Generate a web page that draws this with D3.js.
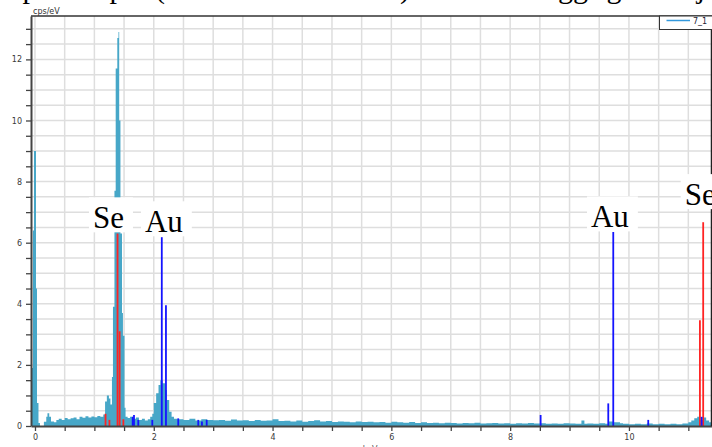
<!DOCTYPE html>
<html>
<head>
<meta charset="utf-8">
<script src="https://cdn.jsdelivr.net/npm/d3@7"></script>
<style>
  body { margin: 0; background: #fff; }
  svg { display: block; }
  .axis text { font-family: "DejaVu Sans", sans-serif; font-size: 8px; fill: #3a3a3a; }
  .axis path, .axis line { stroke: #444; }
</style>
</head>
<body>
<div id="chart"></div>
<script>
// EDS spectrum "7_1": [energy keV (start of step), cps/eV]
const spectrum = [
  [-0.067, 1.9], [-0.034, 6.4], [-0.017, 9.0], [0.017, 4.5], [0.034, 0.75], [0.059, 0.1],
  [0.084, 0.0], [0.15, 0.14], [0.19, 0.3], [0.21, 0.42], [0.24, 0.3], [0.27, 0.15],
  [0.32, 0.12], [0.36, 0.2], [0.40, 0.24], [0.45, 0.2], [0.50, 0.26], [0.55, 0.22],
  [0.60, 0.25], [0.65, 0.28], [0.70, 0.22], [0.75, 0.3], [0.80, 0.27], [0.85, 0.32],
  [0.90, 0.28], [0.95, 0.31], [1.00, 0.29], [1.05, 0.33], [1.10, 0.3], [1.15, 0.38],
  [1.18, 0.8], [1.21, 1.0], [1.245, 0.9], [1.27, 0.7], [1.296, 1.6], [1.313, 3.9],
  [1.338, 7.7], [1.359, 11.7], [1.386, 12.7], [1.406, 12.9], [1.418, 10.0], [1.439, 6.3],
  [1.465, 3.7], [1.481, 2.95], [1.507, 0.6], [1.525, 0.3], [1.56, 0.26], [1.60, 0.3],
  [1.65, 0.24], [1.70, 0.28], [1.75, 0.2], [1.80, 0.24], [1.85, 0.18], [1.90, 0.22],
  [1.94, 0.3], [1.975, 0.4], [2.00, 0.75], [2.04, 1.07], [2.08, 1.34], [2.11, 1.5],
  [2.15, 1.4], [2.19, 1.18], [2.22, 0.85], [2.26, 0.47], [2.30, 0.3], [2.34, 0.24],
  [2.4, 0.22], [2.5, 0.2], [2.6, 0.24], [2.7, 0.18], [2.8, 0.22], [2.9, 0.2],
  [3.0, 0.19], [3.1, 0.2], [3.2, 0.17], [3.3, 0.21], [3.4, 0.18], [3.5, 0.19],
  [3.6, 0.16], [3.7, 0.2], [3.8, 0.17], [3.9, 0.18], [4.0, 0.22], [4.1, 0.16],
  [4.2, 0.17], [4.3, 0.15], [4.4, 0.18], [4.5, 0.14], [4.6, 0.16], [4.7, 0.19],
  [4.8, 0.15], [4.9, 0.16], [5.0, 0.13], [5.1, 0.15], [5.2, 0.14], [5.3, 0.12],
  [5.4, 0.15], [5.5, 0.13], [5.6, 0.14], [5.7, 0.12], [5.8, 0.13], [5.9, 0.11],
  [6.0, 0.14], [6.1, 0.12], [6.2, 0.11], [6.3, 0.13], [6.4, 0.1], [6.5, 0.12],
  [6.6, 0.1], [6.7, 0.11], [6.8, 0.09], [6.9, 0.11], [7.0, 0.1], [7.1, 0.08],
  [7.2, 0.1], [7.3, 0.09], [7.4, 0.11], [7.5, 0.08], [7.6, 0.09], [7.7, 0.1],
  [7.8, 0.08], [7.9, 0.09], [8.0, 0.07], [8.1, 0.09], [8.2, 0.08], [8.3, 0.1],
  [8.4, 0.08], [8.5, 0.09], [8.6, 0.07], [8.7, 0.08], [8.8, 0.07], [8.9, 0.09],
  [9.0, 0.08], [9.1, 0.07], [9.2, 0.18], [9.25, 0.07], [9.3, 0.08], [9.4, 0.07],
  [9.5, 0.09], [9.6, 0.07], [9.65, 0.15], [9.75, 0.12], [9.85, 0.09], [9.9, 0.07],
  [10.0, 0.06], [10.1, 0.07], [10.2, 0.06], [10.3, 0.08], [10.4, 0.06], [10.5, 0.07],
  [10.6, 0.06], [10.7, 0.07], [10.8, 0.06], [10.9, 0.08], [11.0, 0.12], [11.05, 0.18],
  [11.1, 0.25], [11.15, 0.3], [11.2, 0.2], [11.25, 0.28], [11.3, 0.18], [11.35, 0.12],
  [11.39, 0.12]
];

// element marker lines [keV, height]
const seLines = [[1.188, 0.4], [1.253, 0.2], [1.39, 6.3], [1.425, 3.1], [1.488, 0.22],
                 [11.195, 3.46], [11.25, 6.67]];
const auLines = [[1.645, 0.3], [1.667, 0.36], [1.739, 0.2], [1.975, 0.2], [2.135, 6.18],
                 [2.205, 3.95], [2.412, 0.25], [2.749, 0.2], [2.811, 0.15], [2.891, 0.2],
                 [8.513, 0.36], [9.652, 0.74], [9.736, 6.35], [10.325, 0.2], [11.224, 0.3]];

// element labels [text, keV (centre), cps (baseline)]
const labels = [["Se", 1.237, 6.47], ["Au", 2.17, 6.34], ["Au", 9.68, 6.5], ["Se", 11.2, 7.23]];

const xTicks = d3.range(0, 11.5, 0.5);
const yTicks = d3.range(0, 13.5, 0.5);
const xLabelled = [0, 2, 4, 6, 8, 10];
const yLabelled = [0, 2, 4, 6, 8, 10, 12];

const W = 712, H = 447;
const svg = d3.select('#chart').append('svg').attr('width', W).attr('height', H);

const x = d3.scaleLinear().domain([-0.067, 11.39]).range([31, 711.5]);
const y = d3.scaleLinear().domain([0, 13.42]).range([426, 16]);

// grid
svg.append('g').selectAll('line').data(xTicks).join('line')
  .attr('x1', d => x(d)).attr('x2', d => x(d)).attr('y1', 16).attr('y2', 426)
  .attr('stroke', '#dedede').attr('stroke-width', 1.5);
svg.append('g').selectAll('line').data(yTicks.filter(d => d > 0)).join('line')
  .attr('x1', 31).attr('x2', 711.5).attr('y1', d => y(d)).attr('y2', d => y(d))
  .attr('stroke', '#dedede').attr('stroke-width', 1.5);

// spectrum
const area = d3.area().curve(d3.curveStepAfter)
  .x(d => x(d[0])).y0(y(0)).y1(d => y(d[1]));
svg.append('path').datum(spectrum).attr('d', area).attr('fill', '#47a7c8');

// marker lines
function markers(data, color) {
  svg.append('g').selectAll('line').data(data).join('line')
    .attr('x1', d => x(d[0])).attr('x2', d => x(d[0]))
    .attr('y1', y(0)).attr('y2', d => y(d[1]))
    .attr('stroke', color).attr('stroke-width', 1.8);
}
markers(seLines, '#ff2323');
markers(auLines, '#1414ff');

// axes
const yAxis = svg.append('g').attr('class', 'axis').attr('transform', 'translate(31,0)')
  .call(d3.axisLeft(y).tickValues(yTicks).tickSize(5).tickSizeOuter(0)
    .tickFormat(d => yLabelled.includes(d) ? d : ''));
yAxis.select('.domain').attr('stroke-width', 2);
yAxis.selectAll('.tick line').attr('stroke-width', 1.3);
yAxis.selectAll('text').attr('x', -9);

const xAxis = svg.append('g').attr('class', 'axis').attr('transform', 'translate(0,426)')
  .call(d3.axisBottom(x).tickValues(xTicks).tickSize(5).tickSizeOuter(0)
    .tickFormat(d => xLabelled.includes(d) ? d : ''));
xAxis.select('.domain').attr('stroke-width', 2);
xAxis.selectAll('.tick line').attr('stroke-width', 1.3);
xAxis.selectAll('text').attr('y', 8);

// frame top / right
svg.append('line').attr('x1', 31).attr('x2', 712).attr('y1', 16).attr('y2', 16)
  .attr('stroke', '#333').attr('stroke-width', 1.5);
svg.append('line').attr('x1', 711.5).attr('x2', 711.5).attr('y1', 16).attr('y2', 426)
  .attr('stroke', '#222').attr('stroke-width', 1.5);

// axis titles
svg.append('text').attr('x', 33).attr('y', 13.5).text('cps/eV')
  .attr('font-family', 'DejaVu Sans, sans-serif').attr('font-size', 8).attr('fill', '#333');
svg.append('text').attr('x', 370).attr('y', 452).attr('text-anchor', 'middle').text('keV')
  .attr('font-family', 'DejaVu Sans, sans-serif').attr('font-size', 8).attr('fill', '#555');

// element labels with white boxes
labels.forEach(([t, e, v]) => {
  const g = svg.append('g');
  const txt = g.append('text').attr('x', x(e)).attr('y', y(v)).attr('text-anchor', 'middle')
    .attr('font-family', 'Liberation Serif, Times New Roman, serif').attr('font-size', 31)
    .attr('fill', '#000').text(t);
  const bb = txt.node().getBBox();
  g.insert('rect', 'text').attr('x', bb.x - 4).attr('y', y(v) - 31)
    .attr('width', bb.width + 13).attr('height', 35).attr('fill', '#fff');
});

// legend
const lg = svg.append('g');
lg.append('rect').attr('x', 659.5).attr('y', 16).attr('width', 53).attr('height', 13.5)
  .attr('fill', '#fff').attr('stroke', '#333').attr('stroke-width', 1);
lg.append('line').attr('x1', 666.5).attr('x2', 690).attr('y1', 20.5).attr('y2', 20.5)
  .attr('stroke', '#3399dd').attr('stroke-width', 1.5);
lg.append('text').attr('x', 693).attr('y', 24).text('7_1')
  .attr('font-family', 'DejaVu Sans, sans-serif').attr('font-size', 8).attr('fill', '#223');

// descenders of the cut-off document line above the chart
const topGlyphs = [["p", 30], ["p", 117], ["(", 160], [")", 405], ["gg", 573], ["g", 614], ["j", 701]];
svg.append('g').selectAll('text').data(topGlyphs).join('text')
  .attr('x', d => d[1]).attr('y', -2).attr('text-anchor', 'middle')
  .attr('font-family', 'Liberation Serif, serif').attr('font-size', 30).attr('fill', '#000')
  .text(d => d[0]);
</script>
</body>
</html>
